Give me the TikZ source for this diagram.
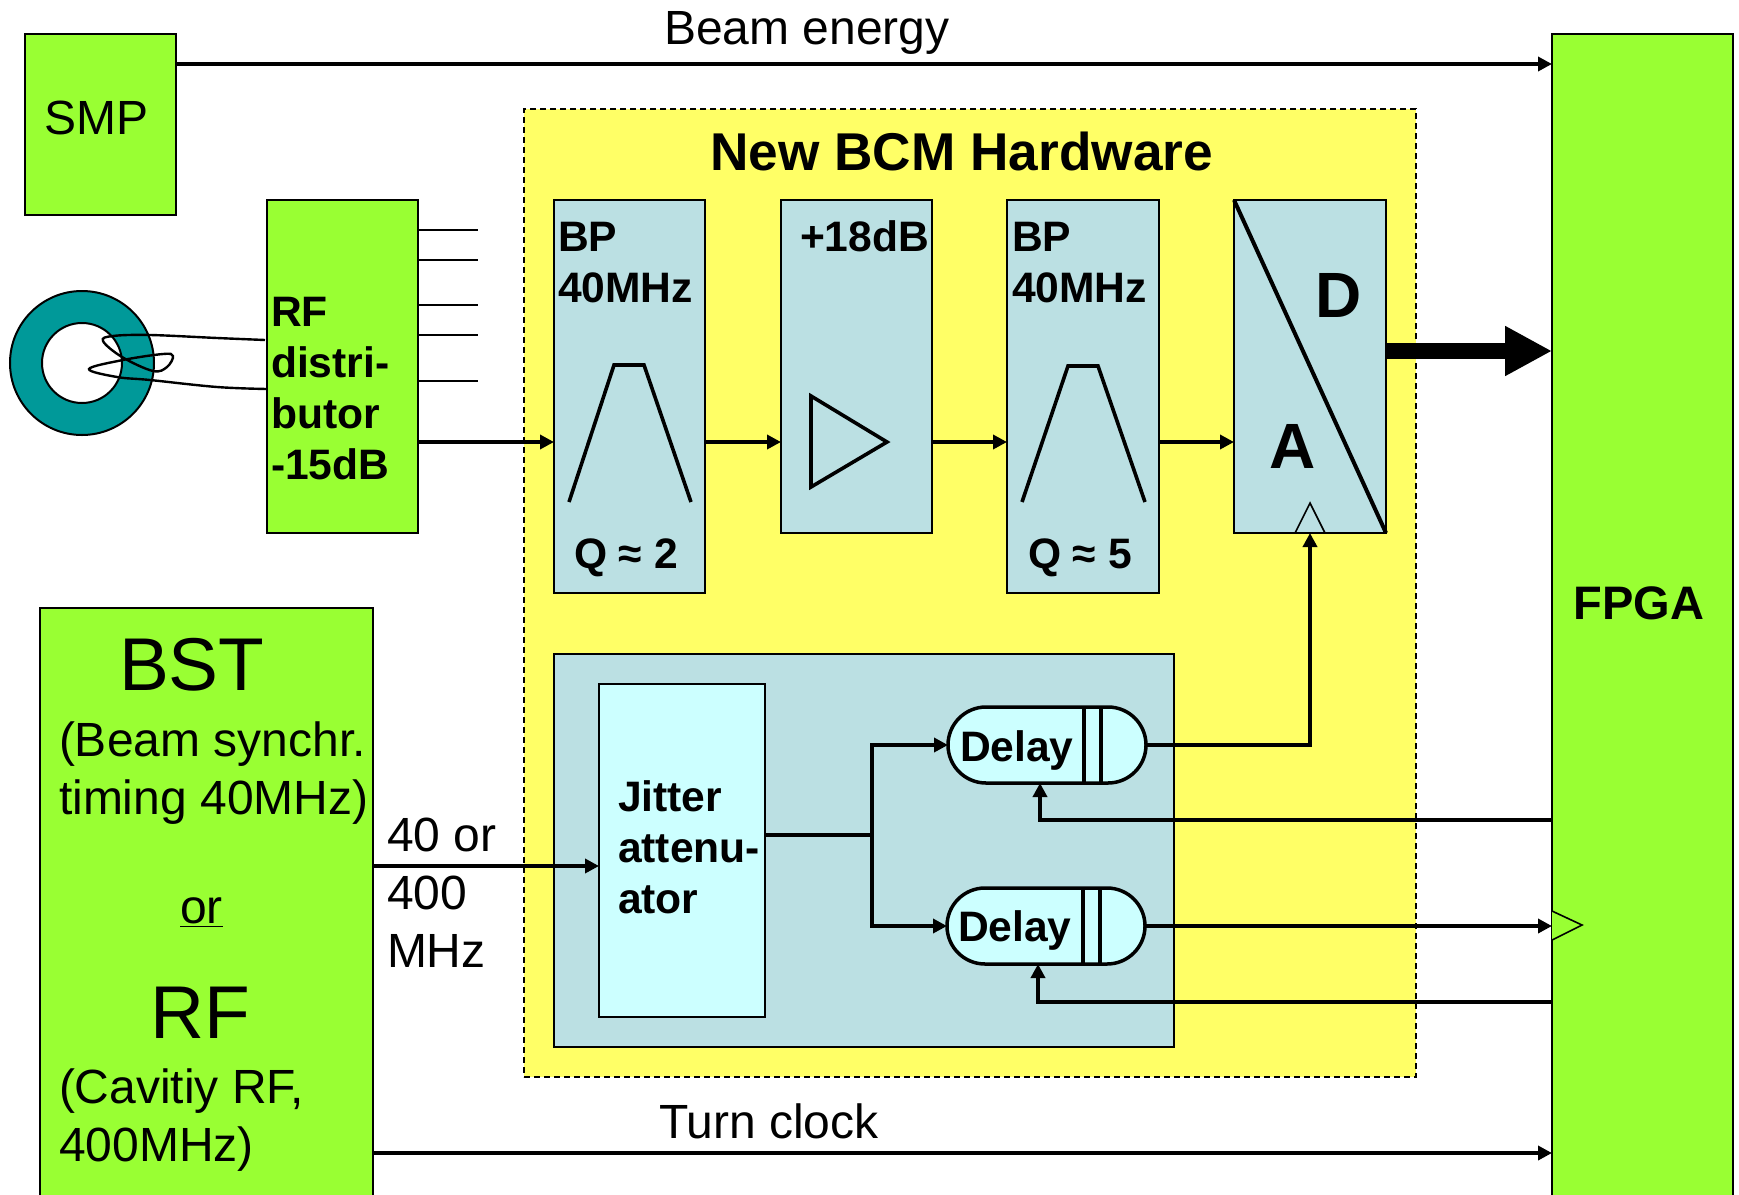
\documentclass[tikz,border=0pt]{standalone}
\usepackage{fontspec}
\setmainfont{Liberation Sans}
\usetikzlibrary{arrows.meta}
\definecolor{limefill}{HTML}{99FF33}
\definecolor{yellowfill}{HTML}{FFFF66}
\definecolor{bluefill}{HTML}{BBE0E3}
\definecolor{cyanfill}{HTML}{CCFFFF}
\definecolor{torusfill}{HTML}{009999}
\begin{document}
\begin{tikzpicture}[
        x=0.5pt,y=-0.5pt,
        sized/.style 2 args={minimum width=#1*0.5pt,minimum height=#2*0.5pt},
        block/.style={draw,line width=1pt,anchor=north west,inner sep=0pt,outer sep=0pt},
        limebox/.style={block,fill=limefill},
        bluebox/.style={block,fill=bluefill},
        delaybox/.style={draw,line width=1.75pt,fill=cyanfill,rounded corners=19pt,anchor=north west,inner sep=0pt,outer sep=0pt,sized={198}{76}},
        wire/.style={line width=1.75pt,-{Triangle[length=7pt,width=7pt]}},
        plainwire/.style={line width=1.75pt},
        stub/.style={line width=1.2pt},
        symbol/.style={line width=1.8pt,line join=miter},
        txt/.style={anchor=base west,inner sep=0pt,outer sep=0pt,align=left,font=\fontsize{24}{29}\selectfont},
        boldtxt/.style={anchor=base west,inner sep=0pt,outer sep=0pt,align=left,font=\fontsize{21.3}{25.5}\selectfont\bfseries},
        bigtxt/.style={anchor=base west,inner sep=0pt,outer sep=0pt,font=\fontsize{37.4}{44}\selectfont}
        ]
    
        \path[use as bounding box,clip] (0,0) rectangle (1739,1194);
        \fill[white] (0,0) rectangle (1739,1194);

        \node (hardware) at (524,109) [block,fill=yellowfill,dash pattern=on 3pt off 2pt,sized={892}{968}] {};
        \node (smp) at (25,34) [limebox,sized={151}{181}] {};
        \node (rfdist) at (267,200) [limebox,sized={151}{333}] {};
        \node (bst) at (40,608) [limebox,sized={333}{620}] {};
        \node (fpga) at (1552,34) [limebox,sized={181}{1195}] {};
        \node (bpA) at (554,200) [bluebox,sized={151}{393}] {};
        \node (amp) at (781,200) [bluebox,sized={151}{333}] {};
        \node (bpB) at (1007,200) [bluebox,sized={152}{393}] {};
        \node (adc) at (1234,200) [bluebox,sized={152}{333}] {};
        \node (timing) at (554,654) [bluebox,sized={620}{393}] {};
        \node (jitter) at (599,684) [block,fill=cyanfill,sized={166}{333}] {};
        \node (delayA) at (948,707) [delaybox] {};
        \node (delayB) at (947,888) [delaybox] {};
        \node (torus) at (82,363) [circle,draw,line width=1pt,fill=torusfill,inner sep=0pt,minimum size=72pt] {};
        \node (hole) at (82,363) [circle,draw,line width=1pt,fill=white,inner sep=0pt,minimum size=40pt] {};

        \coordinate (beam) at (0,64);
        \coordinate (sig) at (0,442);
        \coordinate (dataout) at (0,351);
        \coordinate (clockin) at (0,866);
        \coordinate (split) at (872,835);
        \coordinate (setA) at (1040,820);
        \coordinate (setB) at (1038,1002);
        \coordinate (turn) at (0,1153);
        \coordinate (clockup) at (1310,744);

        \draw[wire] (smp.east |- beam) -- (fpga.west |- beam);
        \draw[wire] (rfdist.east |- sig) -- (bpA.west |- sig);
        \draw[wire] (bpA.east |- sig) -- (amp.west |- sig);
        \draw[wire] (amp.east |- sig) -- (bpB.west |- sig);
        \draw[wire] (bpB.east |- sig) -- (adc.west |- sig);
        \draw[line width=8pt,-{Triangle[length=23.5pt,width=23.5pt]}] (adc.east |- dataout) -- (fpga.west |- dataout);
        \draw[wire] (bst.east |- clockin) -- (jitter.west |- clockin);
        \draw[wire] (bst.east |- turn) -- (fpga.west |- turn);
        \draw[plainwire] (jitter.east |- split) -- (split);
        \draw[wire] (split) |- (delayA.west);
        \draw[wire] (split) |- (delayB.west);
        \draw[wire] (delayA.east) -| (adc.south -| clockup);
        \draw[wire] (fpga.west |- setA) -| (setA |- delayA.south);
        \draw[wire] (delayB.east) -- (fpga.west |- delayB.east);
        \draw[wire] (fpga.west |- setB) -| (setB |- delayB.south);

        \foreach \y in {230,260,305,335,381}
          \draw[stub] (rfdist.east |- 0,\y) -- (478,\y);

        \draw[line width=1.2pt] plot[smooth,tension=.6] coordinates {(265,340) (217,338) (150,335) (113,336) (103,341) (122,357) (153,371) (167,367) (173,356) (163,354) (123,360) (89,369) (117,377) (150,380) (217,387) (267,389)};

        \draw[symbol] (569,502) -- (614,365) -- (644,365) -- (691,502);
        \draw[symbol] (1022,502) -- (1068,366) -- (1098,366) -- (1145,502);
        \draw[symbol] (811,396) -- (811,487) -- (887,442) -- cycle;
        \draw[line width=2pt] (adc.north west) -- (adc.south east);
        \draw[line width=.8pt] (1295,533) -- (1310,503) -- (1325,533);
        \draw[line width=.8pt,fill=limefill] (1552,911) -- (1582,925) -- (1552,940);
        \draw[line width=1.75pt] (1084,707) -- (1084,783);
        \draw[line width=1.75pt] (1101,707) -- (1101,783);
        \draw[line width=1.75pt] (1083,888) -- (1083,964);
        \draw[line width=1.75pt] (1100,888) -- (1100,964);

        \node (beamtext) at (664,44) [txt] {Beam energy};
        \node (smptext) at (44,134) [txt] {SMP};
        \node (turntext) at (659,1138) [txt] {Turn clock};
        \node (hwtext) at (710,170) [anchor=base west,inner sep=0pt,font=\fontsize{26.6}{32}\selectfont\bfseries] {New BCM Hardware};
        \node (bpAtext) at (558,302) [boldtxt] {BP\\40MHz};
        \node (bpBtext) at (1012,302) [boldtxt] {BP\\40MHz};
        \node (amptext) at (800,251) [boldtxt] {+18dB};
        \node (qAtext) at (574,568) [boldtxt] {Q ≈ 2};
        \node (qBtext) at (1028,568) [boldtxt] {Q ≈ 5};
        \node (rftext) at (271,479) [boldtxt] {RF\\distri-\\butor\\-15dB};
        \node (dtext) at (1315,317) [anchor=base west,inner sep=0pt,font=\fontsize{32}{38}\selectfont\bfseries] {D};
        \node (atext) at (1269,468) [anchor=base west,inner sep=0pt,font=\fontsize{32}{38}\selectfont\bfseries] {A};
        \node (fpgatext) at (1573,619) [anchor=base west,inner sep=0pt,font=\fontsize{23.5}{29}\selectfont\bfseries] {FPGA};
        \node (bsttext) at (119,690) [bigtxt] {BST};
        \node (synctext) at (59,814) [txt] {(Beam synchr.\\timing 40MHz)};
        \node (ortext) at (180,923) [txt] {\underline{or}};
        \node (bigrftext) at (150,1038) [bigtxt] {RF};
        \node (cavtext) at (59,1161) [txt] {(Cavitiy RF,\\400MHz)};
        \node (freqtext) at (387,967) [txt] {40 or\\400\\MHz};
        \node (jittertext) at (618,913) [boldtxt] {Jitter\\attenu-\\ator};
        \node (delayAtext) at (960,761) [boldtxt] {Delay};
        \node (delayBtext) at (958,941) [boldtxt] {Delay};
      \end{tikzpicture}
\end{document}
